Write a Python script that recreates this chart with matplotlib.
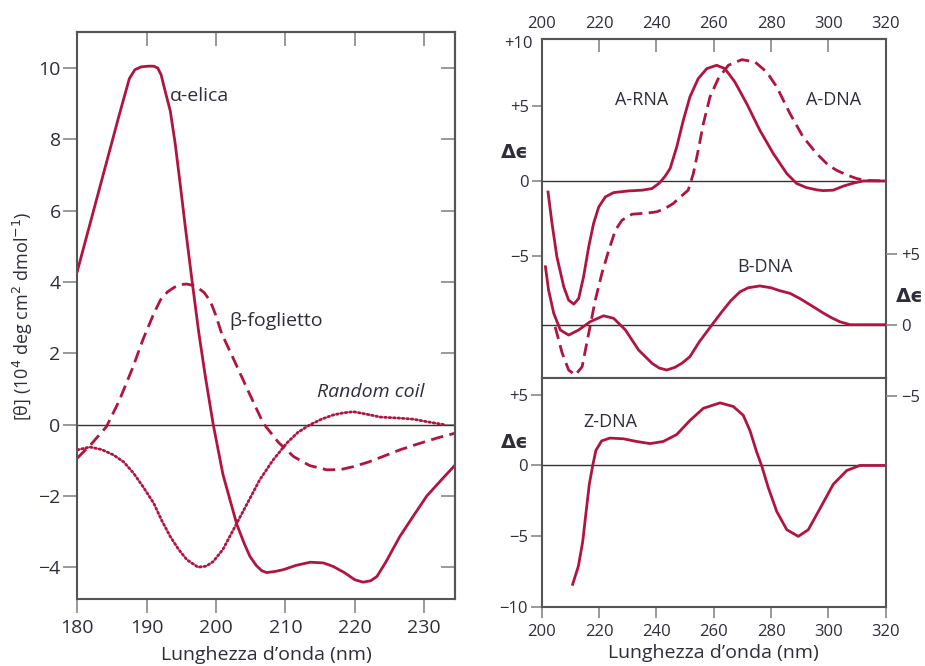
import numpy as np
import matplotlib
matplotlib.use("Agg")
import matplotlib.pyplot as plt

plt.rcParams['font.family'] = ['Open Sans', 'DejaVu Sans']

# ---- left panel: protein CD spectra ([theta] x 10^4)
alpha_x = [180, 182, 184, 186, 187.5, 188.3, 189.2, 190.2, 191.0, 191.6, 192.1, 192.6, 193.4,
           194.1, 194.8, 195.6, 196.5, 197.5, 198.5, 199.6, 201, 203, 204.1, 204.9, 205.8,
           206.6, 207.3, 208.5, 209.7, 211.5, 213.6, 215.5, 216.9, 218.5, 220, 221.2, 222.3,
           223.2, 224.5, 226.5, 228.5, 230.4, 232.5, 234.5]
alpha_y = [4.3, 5.75, 7.2, 8.65, 9.7, 9.95, 10.03, 10.05, 10.05, 10.0, 9.8, 9.4, 8.8,
           7.9, 6.8, 5.5, 4.1, 2.6, 1.3, 0.0, -1.4, -2.8, -3.35, -3.7, -3.95,
           -4.1, -4.15, -4.12, -4.07, -3.95, -3.86, -3.88, -3.98, -4.15, -4.35, -4.42, -4.38,
           -4.26, -3.85, -3.14, -2.55, -2.0, -1.55, -1.13]

beta_x = [180, 182, 184.2, 186, 188, 189.5, 191, 192, 193, 194, 195, 195.8, 196.7, 197.5, 198.3,
          199.2, 200, 200.8, 202.5, 204.5, 206.8, 209, 211.2, 213.5, 216, 218, 219.8, 222, 224,
          226.5, 229, 232, 234.5]
beta_y = [-0.94, -0.55, -0.06, 0.65, 1.6, 2.4, 3.1, 3.5, 3.72, 3.85, 3.93, 3.94, 3.9, 3.82, 3.7,
          3.45, 3.05, 2.56, 1.85, 1.0, 0.04, -0.5, -0.9, -1.15, -1.27, -1.26, -1.18, -1.05,
          -0.9, -0.71, -0.55, -0.37, -0.24]

coil_x = [180, 181.8, 183.5, 185.2, 186.7, 188.1, 189.5, 191.0, 192.2, 193.4, 194.6, 195.8,
          197.4, 198.6, 199.6, 201, 202.5, 204.4, 206.3, 208.2, 210.2, 211.8, 213.5, 215.2,
          216.9, 218.4, 219.8, 221.5, 223.7, 226.5, 228.5, 230.4, 232.8]
coil_y = [-0.71, -0.63, -0.7, -0.85, -1.05, -1.36, -1.75, -2.2, -2.7, -3.14, -3.5, -3.79,
          -4.0, -3.97, -3.84, -3.5, -2.95, -2.25, -1.55, -1.0, -0.52, -0.22, -0.01, 0.15,
          0.27, 0.33, 0.36, 0.3, 0.21, 0.18, 0.15, 0.08, 0.0]

# ---- right panels: nucleic acid CD spectra (delta epsilon)
arna_x = [202.2, 203.6, 205.3, 207.7, 209.4, 211.2, 212.9, 214.6, 216.4, 218.1, 219.9, 222.2,
          225.1, 230.3, 235.0, 238.5, 241, 243, 244.8, 247.1, 249.4, 251.7, 254.6, 257.6,
          261.0, 263.9, 267.4, 271.5, 276.1, 280.8, 285.5, 288.9, 292.4, 296, 298.2, 301.7,
          305.2, 308.7, 312.2, 316, 320]
arna_y = [-0.74, -2.85, -5.08, -7.09, -7.98, -8.25, -7.87, -6.42, -4.41, -2.85, -1.74, -1.07,
          -0.78, -0.67, -0.62, -0.51, -0.15, 0.3, 0.83, 2.27, 4.06, 5.62, 6.85, 7.52,
          7.74, 7.52, 6.62, 5.18, 3.39, 1.83, 0.49, -0.17, -0.45, -0.6, -0.65, -0.62,
          -0.35, -0.15, 0.0, 0.0, 0.0]

adna_x = [204.7, 207.1, 209.4, 211.7, 214.1, 216.4, 218.7, 221.0, 223.4, 225.7, 228.0, 231.5,
          237.3, 240.1, 243, 245.9, 248.2, 251.1, 252.9, 254.6, 256.4, 258.7, 261.6, 265.1,
          269.8, 274.4, 278.5, 282.0, 286.6, 291.2, 295.9, 300.0, 303, 306.4, 310, 313.4, 320]
adna_y = [-9.77, -11.5, -12.66, -13.0, -12.44, -10.2, -7.98, -6.19, -4.64, -3.3, -2.63, -2.23,
          -2.14, -2.07, -1.85, -1.51, -1.1, -0.62, 0.49, 2.05, 3.84, 5.62, 6.85, 7.74,
          8.12, 7.96, 7.29, 6.29, 4.51, 2.94, 1.83, 1.05, 0.7, 0.4, 0.15, 0.03, 0.0]

bdna_x = [201.3, 202.4, 204.2, 206.5, 209.4, 212.9, 216.9, 221.6, 225.1, 229.2, 233.8, 238.5,
          241, 243.6, 246.5, 249, 251.7, 255, 259.8, 263, 266, 269.2, 272, 276.1,
          280, 283, 286.6, 290, 294.7, 298, 301, 304, 307.6, 320]
bdna_y = [4.08, 2.44, 0.8, -0.37, -0.73, -0.37, 0.21, 0.63, 0.45, -0.37, -1.78, -2.72,
          -3.05, -3.19, -3.0, -2.7, -2.25, -1.2, 0.1, 0.95, 1.7, 2.32, 2.6, 2.73,
          2.6, 2.4, 2.21, 1.85, 1.27, 0.85, 0.5, 0.21, 0.0, 0.0]

zdna_x = [210.8, 212.8, 214.3, 215.5, 216.6, 217.8, 218.9, 220.9, 223.8, 228.5, 233.1, 237.8,
          242.4, 247.1, 251.7, 256.4, 262.2, 266.8, 270.3, 272.7, 275.0, 276.7, 279.0, 282.0,
          285.5, 289.5, 293.0, 297.1, 301.7, 306.4, 311.0, 320]
zdna_y = [-8.38, -7.1, -5.38, -3.25, -1.33, 0.0, 1.06, 1.73, 1.93, 1.88, 1.69, 1.54,
          1.69, 2.18, 3.17, 4.03, 4.41, 4.16, 3.54, 2.43, 0.94, 0.0, -1.54, -3.25,
          -4.53, -5.0, -4.53, -3.03, -1.33, -0.36, 0.0, 0.0]

RED = '#b0143f'
TXT = '#2e2e3a'
SPINE = '#555555'
TICK = '#888888'

W, H = 925, 666
fig = plt.figure(figsize=(W / 100, H / 100), dpi=100)


def box(x0, y0, x1, y1):
    # pixel box (top-left origin) -> figure fraction rect
    return [x0 / W, 1 - y1 / H, (x1 - x0) / W, (y1 - y0) / H]


def style(ax):
    for s in ax.spines.values():
        s.set_color(SPINE)
        s.set_linewidth(1.5)


# ---------------- left panel
ax = fig.add_axes(box(77.3, 32.3, 455.3, 599.3))
style(ax)
ax.axhline(0, color='#333333', lw=1.0)
ax.plot(alpha_x, alpha_y, color=RED, lw=2.0, solid_joinstyle='round')
ax.plot(beta_x, beta_y, color=RED, lw=2.0, dashes=(4.5, 2.3))
ax.plot(coil_x, coil_y, color=RED, lw=2.0, linestyle=(0, (0.6, 1.0)), dash_capstyle='round')
ax.set_xlim(180, 234.5)
ax.set_ylim(-4.9, 11.0)
ax.set_xticks([180, 190, 200, 210, 220, 230])
ax.set_yticks([-4, -2, 0, 2, 4, 6, 8, 10])
ax.set_yticklabels(['\u22124', '\u22122', '0', '2', '4', '6', '8', '10'])
ax.tick_params(direction='out', length=10, width=1.2, color=TICK, labelsize=14,
               labelcolor=TXT, pad=2)
ax.tick_params(axis='x', pad=4)
top = ax.secondary_xaxis('top')
top.set_xticks([190, 200, 210, 220, 230])
top.tick_params(direction='in', length=10, width=1.2, color=TICK, labeltop=False)
right = ax.secondary_yaxis('right')
right.set_yticks([-4, -2, 0, 2, 4, 6, 8, 10])
right.tick_params(direction='in', length=10, width=1.2, color=TICK, labelright=False)
for a in (top, right):
    style(a)
ax.set_xlabel('Lunghezza d\u2019onda (nm)', fontsize=14, color=TXT, labelpad=7)
ax.set_ylabel('[\u03b8] (10$^{4}$ deg cm$^{2}$ dmol$^{\u22121}$)', fontsize=13, color=TXT,
              labelpad=2)
ax.text(193.4, 9.2, '\u03b1-elica', fontsize=14, color=TXT, va='center')
ax.text(201.9, 2.9, '\u03b2-foglietto', fontsize=14, color=TXT, va='center')
ax.text(214.6, 0.9, 'Random coil', fontsize=14, color=TXT, va='center', style='italic')

# ---------------- right top panel (A-RNA, A-DNA)
axt = fig.add_axes(box(541.7, 39, 885.7, 377.5))
style(axt)
axt.axhline(0, color='#333333', lw=1.0)
axt.plot(arna_x, arna_y, color=RED, lw=2.0, solid_joinstyle='round')
axt.plot(adna_x, adna_y, color=RED, lw=2.0, dashes=(4.5, 2.3))
axt.set_xlim(200, 320)
axt.set_ylim(-13.16, 9.5)
axt.set_xticks([])
axt.set_yticks([-5, 0, 5])
axt.set_yticklabels(['\u22125', '0', '+5'])
axt.tick_params(axis='y', direction='out', length=7, width=1.2, color=TICK, labelsize=12,
                labelcolor=TXT, pad=2)
ttop = axt.secondary_xaxis('top')
ttop.set_xticks([200, 220, 240, 260, 280, 300, 320])
ttop.tick_params(direction='in', length=9, width=1.2, color=TICK, labelsize=12,
                 labelcolor=TXT, pad=5)
style(ttop)
axt.text(234.9, 5.4, 'A-RNA', fontsize=13, color=TXT, ha='center', va='center')
axt.text(301.7, 5.4, 'A-DNA', fontsize=13, color=TXT, ha='center', va='center')

# ---------------- right bottom panel (Z-DNA)
axb = fig.add_axes(box(541.7, 377.5, 885.7, 607.3))
style(axb)
axb.axhline(0, color='#333333', lw=1.0)
axb.plot(zdna_x, zdna_y, color=RED, lw=2.0, solid_joinstyle='round')
axb.set_xlim(200, 320)
axb.set_ylim(-10, 6.2)
axb.set_xticks([200, 220, 240, 260, 280, 300, 320])
axb.set_yticks([-10, -5, 0, 5])
axb.set_yticklabels(['\u221210', '\u22125', '0', '+5'])
axb.tick_params(direction='out', length=8, width=1.2, color=TICK, labelsize=12,
                labelcolor=TXT, pad=2)
axb.tick_params(axis='x', pad=4)
axb.set_xlabel('Lunghezza d\u2019onda (nm)', fontsize=14, color=TXT, labelpad=3)
axb.text(224.1, 3.05, 'Z-DNA', fontsize=13, color=TXT, ha='center', va='center')

# ---------------- B-DNA on its own scale, right-hand axis across both panels
axB = fig.add_axes(box(541.7, 39, 885.7, 607.3), sharex=axt)
axB.patch.set_visible(False)
for s in axB.spines.values():
    s.set_visible(False)
axB.axhline(0, color='#333333', lw=1.0)
axB.plot(bdna_x, bdna_y, color=RED, lw=2.0, solid_joinstyle='round')
axB.set_ylim(-19.9, 20.12)
axB.yaxis.tick_right()
axB.set_yticks([-5, 0, 5])
axB.set_yticklabels(['\u22125', '0', '+5'])
axB.tick_params(axis='y', direction='out', length=8, width=1.2, color=TICK, labelsize=12,
                labelcolor=TXT, pad=3)
axB.tick_params(axis='x', bottom=False, labelbottom=False)
axB.text(277.9, 4.08, 'B-DNA', fontsize=13, color=TXT, ha='center', va='center')

# axis captions in pixel positions
fig.text(518 / W, 1 - 44 / H, '+10', fontsize=12, color=TXT, ha='center', va='center')
for px, py in [(515, 152), (515, 442), (910, 297)]:
    fig.text(px / W, 1 - py / H, '\u0394\u03f5', fontsize=14, fontweight='bold', color=TXT,
             ha='center', va='center', family=['DejaVu Sans'])

fig.savefig('out.png', dpi=100)
